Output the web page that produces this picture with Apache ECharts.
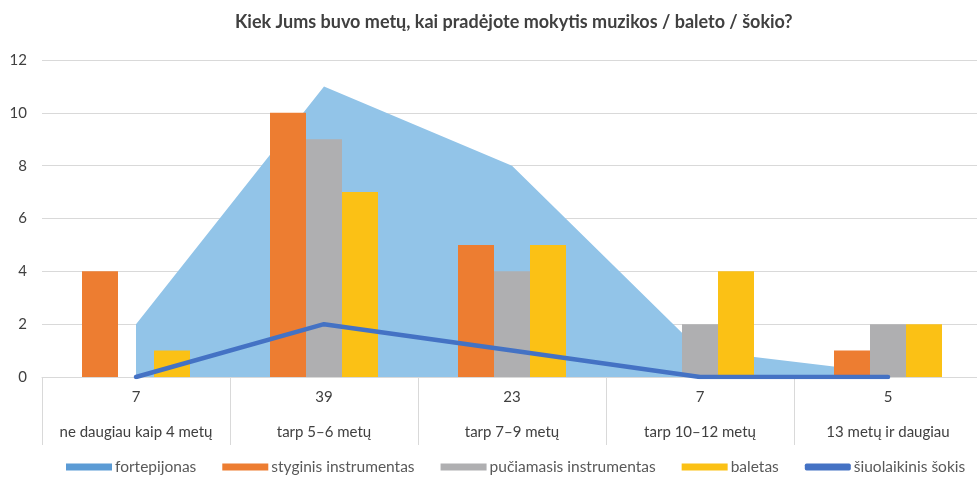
<!DOCTYPE html>
<html>
<head>
<meta charset="utf-8">
<script src="https://cdn.jsdelivr.net/npm/echarts@6/dist/echarts.min.js"></script>
<style>html,body{margin:0;padding:0;background:#fff}#c{width:977px;height:477px}</style>
</head>
<body>
<div id="c"></div>
<script>
const categories = ['ne daugiau kaip 4 metų', 'tarp 5–6 metų', 'tarp 7–9 metų', 'tarp 10–12 metų', '13 metų ir daugiau'];
const counts = ['7', '39', '23', '7', '5'];
const fortepijonas = [2, 11, 8, 1, 0.15];
const styginis = [4, 10, 5, 0, 1];
const puciamasis = [0, 9, 4, 2, 2];
const baletas = [1, 7, 5, 4, 2];
const siuolaikinis = [0, 2, 1, 0, 0];
const yTicks = [0, 2, 4, 6, 8, 10, 12];

const FONT = 'Lato';
const chart = echarts.init(document.getElementById('c'), null, {renderer: 'canvas'});
chart.setOption({
  animation: false,
  textStyle: {fontFamily: FONT},
  title: {
    text: 'Kiek Jums buvo metų, kai pradėjote mokytis muzikos / baleto / šokio?',
    left: 230, top: 8,
    textStyle: {fontFamily: FONT, fontSize: 18, fontWeight: 'bold', color: '#404040'}
  },
  legend: {
    bottom: 2, left: 66, width: 911, padding: 0,
    itemWidth: 46, itemHeight: 7, itemGap: 26,
    textStyle: {fontFamily: FONT, fontSize: 15.5, color: '#595959', padding: [0, 0, 0, -2]},
    data: [
      {name: 'fortepijonas', icon: 'rect', itemStyle: {color: '#5B9BD5'}},
      {name: 'styginis instrumentas', icon: 'rect'},
      {name: 'pučiamasis instrumentas', icon: 'rect'},
      {name: 'baletas', icon: 'rect'},
      {name: 'šiuolaikinis šokis', icon: 'roundRect', itemStyle: {color: '#4472C4'}}
    ]
  },
  grid: {left: 42, width: 940, top: 60, bottom: 100, outerBoundsMode: 'none', containLabel: false},
  xAxis: {
    type: 'category',
    data: categories,
    boundaryGap: true,
    axisLine: {lineStyle: {color: '#D9D9D9', width: 1}},
    axisTick: {show: true, length: 68, interval: 0, lineStyle: {color: '#D9D9D9'}},
    axisLabel: {
      interval: 0, margin: 3,
      formatter: function (v, i) { return '{n|' + counts[i] + '}\n{c|' + v + '}'; },
      rich: {
        n: {fontFamily: FONT, fontSize: 15, color: '#404040', lineHeight: 35},
        c: {fontFamily: FONT, fontSize: 15, color: '#404040', lineHeight: 35}
      }
    }
  },
  yAxis: {
    type: 'value', min: yTicks[0], max: yTicks[yTicks.length - 1], interval: 2,
    axisLine: {show: false}, axisTick: {show: false},
    splitLine: {lineStyle: {color: '#D9D9D9', width: 1}},
    axisLabel: {fontFamily: FONT, fontSize: 15, color: '#404040', margin: 15}
  },
  series: [
    {
      name: 'fortepijonas', type: 'line', data: fortepijonas,
      showSymbol: false, symbol: 'none',
      lineStyle: {width: 0, color: '#92C4E8'},
      itemStyle: {color: '#5B9BD5'},
      areaStyle: {color: '#92C4E8', opacity: 1},
      z: 1
    },
    {name: 'styginis instrumentas', type: 'bar', data: styginis, barWidth: 36, barGap: '0%', itemStyle: {color: '#ED7D31'}, z: 2},
    {name: 'pučiamasis instrumentas', type: 'bar', data: puciamasis, barWidth: 36, barGap: '0%', itemStyle: {color: '#AFAFB1'}, z: 2},
    {name: 'baletas', type: 'bar', data: baletas, barWidth: 36, barGap: '0%', itemStyle: {color: '#FBC115'}, z: 2},
    {
      name: 'šiuolaikinis šokis', type: 'line', data: siuolaikinis,
      showSymbol: false, symbol: 'none',
      lineStyle: {width: 4.5, color: '#4472C4', cap: 'round', join: 'round'},
      itemStyle: {color: '#4472C4'},
      z: 5
    }
  ]
});
</script>
</body>
</html>
